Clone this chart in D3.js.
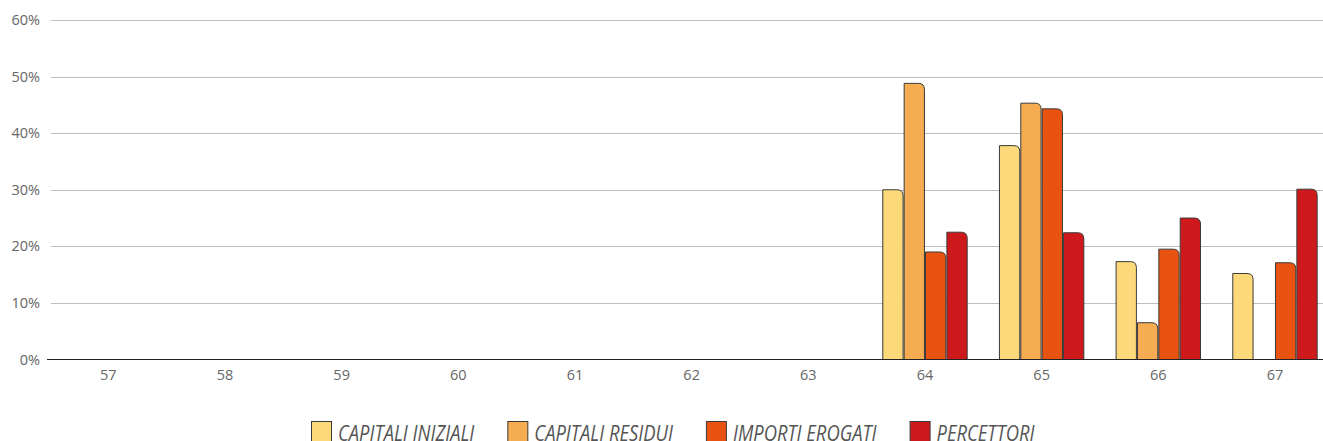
<!DOCTYPE html>
<html>
<head>
<meta charset="utf-8">
<script src="https://cdn.jsdelivr.net/npm/d3@7"></script>
<style>
  html, body { margin: 0; padding: 0; background: #fff; overflow: hidden; }
  svg { display: block; font-family: "Open Sans", "Noto Sans", sans-serif; }
</style>
</head>
<body>
<svg id="chart" width="1323" height="441"></svg>
<script>
const categories = ["57", "58", "59", "60", "61", "62", "63", "64", "65", "66", "67"];
const seriesNames = ["CAPITALI INIZIALI", "CAPITALI RESIDUI", "IMPORTI EROGATI", "PERCETTORI"];
const capitaliIniziali = [0, 0, 0, 0, 0, 0, 0, 30.0, 37.8, 17.3, 15.2];
const capitaliResidui  = [0, 0, 0, 0, 0, 0, 0, 48.8, 45.3, 6.5, 0];
const importiErogati   = [0, 0, 0, 0, 0, 0, 0, 19.0, 44.3, 19.5, 17.1];
const percettori       = [0, 0, 0, 0, 0, 0, 0, 22.5, 22.4, 25.0, 30.1];
const yTicks = [0, 10, 20, 30, 40, 50, 60];
const colors = ["#FED979", "#F6AC50", "#E85311", "#CD191C"];

const seriesValues = [capitaliIniziali, capitaliResidui, importiErogati, percettori];
const FONT = '"Open Sans", "Noto Sans", sans-serif';

const svg = d3.select("#chart");
const plotTop = 20, plotBottom = 359.5;

const x = d3.scaleBand().domain(categories).range([50, 1333.3]).padding(0);
const x1 = d3.scaleBand().domain(seriesNames).range([0, 84.4]).paddingInner(0.05);
const y = d3.scaleLinear().domain([0, 60]).range([plotBottom, plotTop]);

// y axis labels
const yAxis = d3.axisLeft(y).tickValues(yTicks).tickFormat(d => d + "%").tickSize(0).tickPadding(0);
const gy = svg.append("g").attr("transform", "translate(40,0)").call(yAxis)
  .attr("font-family", FONT).attr("font-size", 14.5);
gy.select(".domain").remove();
gy.selectAll("text").attr("fill", "#666").attr("x", 0);

// grid lines
svg.append("g").selectAll("line").data(yTicks.filter(d => d > 0)).join("line")
  .attr("x1", 51).attr("x2", 1323)
  .attr("y1", d => Math.round(y(d)) + 0.5).attr("y2", d => Math.round(y(d)) + 0.5)
  .attr("stroke", "#bdbdbd").attr("stroke-width", 1);

// bars
const r = 6;
function barPath(x0, w, yTop, yBot) {
  const rr = Math.min(r, w / 2, yBot - yTop);
  return `M${x0},${yBot} L${x0},${yTop} L${x0 + w - rr},${yTop} Q${x0 + w},${yTop} ${x0 + w},${yTop + rr} L${x0 + w},${yBot} Z`;
}
const groups = svg.append("g").selectAll("g").data(categories).join("g")
  .attr("transform", d => `translate(${x(d) + x.bandwidth() / 2 - 42.2},0)`);
groups.selectAll("path").data((d, i) => seriesNames.map((s, j) => ({ s, j, v: seriesValues[j][i] })).filter(e => e.v > 0))
  .join("path")
  .attr("d", e => barPath(x1(e.s), x1.bandwidth(), y(e.v), y(0)))
  .attr("fill", e => colors[e.j])
  .attr("stroke", "#3a3a3a").attr("stroke-width", 1);

// baseline
svg.append("line").attr("x1", 47).attr("x2", 1323).attr("y1", plotBottom).attr("y2", plotBottom)
  .attr("stroke", "#222").attr("stroke-width", 1.2);

// x axis labels
const xAxis = d3.axisBottom(x).tickSize(0).tickPadding(0);
const gx = svg.append("g").attr("transform", `translate(0,${plotBottom})`).call(xAxis)
  .attr("font-family", FONT).attr("font-size", 14.5);
gx.select(".domain").remove();
gx.selectAll("text").attr("fill", "#666").attr("dy", null).attr("y", 20);

// legend
const legend = svg.append("g");
let lx = 311;
seriesNames.forEach((s, j) => {
  legend.append("rect").attr("x", lx + 0.5).attr("y", 421.5).attr("width", 20).attr("height", 20)
    .attr("fill", colors[j]).attr("stroke", "#3a3a3a").attr("stroke-width", 1);
  const t = legend.append("text")
    .attr("transform", `translate(${lx + 27},440.5) scale(1,1.18)`)
    .attr("font-family", FONT)
    .attr("font-size", 18.4).attr("font-style", "italic").attr("fill", "#555").text(s);
  const w = t.node().getComputedTextLength();
  lx += 27 + w + 33;
});
</script>
</body>
</html>
